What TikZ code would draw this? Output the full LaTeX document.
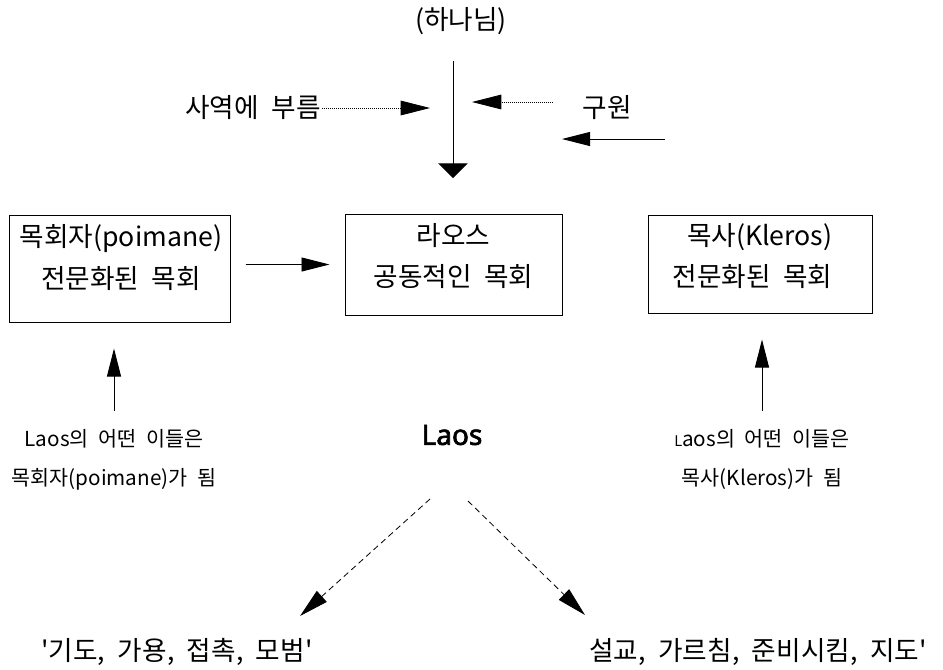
\documentclass[tikz,border=0pt]{standalone}
\usepackage{fontspec}
\setmainfont{Noto Sans CJK KR}[WordSpace=2.1]
\newfontfamily\latinbold{Noto Sans}[FakeBold=2.5]
\usetikzlibrary{arrows.meta,positioning}
\tikzset{>=latex,
  panel/.style={draw,line width=0.75pt,inner sep=0pt},
  big/.style={font=\fontsize{20}{31}\selectfont,align=center,inner sep=1pt},
  small/.style={font=\fontsize{15.5}{29}\selectfont,align=center,inner sep=1pt},
  plain/.style={line width=0.7pt,-{Triangle[length=21pt,width=10.5pt]}},
  downhead/.style={line width=0.7pt,-{Triangle[length=11pt,width=22pt]}},
  dots/.style={line width=0.6pt,dash pattern=on 0.75pt off 0.75pt,-{Triangle[length=22pt,width=11pt]}},
  dashes/.style={line width=0.6pt,dash pattern=on 4.5pt off 3pt,-{Triangle[length=22pt,width=11pt]}}}

\begin{document}
\begin{tikzpicture}[x=0.75pt,y=-0.75pt]
		\useasboundingbox (0,0) rectangle (943,669);
		% God on top
		\node[big] (god) at (461,21) {(하나님)};
		\coordinate (godfoot) at (453,61);
		\coordinate (godtip) at (453,178);
		\draw[downhead] (godfoot) -- (godtip);
		% Calling and salvation
		\node[big] (call) at (253,108) {사역에 부름};
		\coordinate (calltip) at (430,108);
		\draw[dots] (call.east) -- (calltip);
		\node[big] (save) at (607,108) {구원};
		\coordinate (savefoot) at (553,102);
		\coordinate (savetip) at (472,102);
		\draw[dots] (savefoot) -- (savetip);
		\coordinate (sidefoot) at (665,139);
		\coordinate (sidetip) at (562,139);
		\draw[plain] (sidefoot) -- (sidetip);
		% Three boxes
		\node[panel,minimum width=165.75pt,minimum height=80.25pt] (pastor) at (119.5,268.5) {};
		\node[big] (pastortext) at (121,257.5) {목회자(poimane)\\전문화된 목회};
		\node[panel,minimum width=162.75pt,minimum height=75.75pt] (laity) at (453.5,264.5) {};
		\node[big] (laitytext) at (453.5,256) {라오스\\공동적인 목회};
		\node[panel,minimum width=168pt,minimum height=73.5pt] (clergy) at (760,264) {};
		\node[big,align=right,anchor=east] (clergytext) at (834,256) {목사(Kleros)\\전문화된 목회};
		\draw[plain,shorten <=11.25pt,shorten >=11.25pt] (pastor.east |- laity.west) -- (laity.west);
		% Some of the Laos
		\node[small] (pnote) at (114,459.5) {Laos의 어떤 이들은\\목회자(poimane)가 됨};
		\draw[plain,shorten <=12.75pt,shorten >=19.5pt] (pnote.north) -- (pnote.north |- pastor.south);
		\node[small] (knote) at (762,459.5) {{\fontsize{11}{11}\selectfont L}aos의 어떤 이들은\\목사(Kleros)가 됨};
		\draw[plain,shorten <=12.75pt,shorten >=19.5pt] (knote.north) -- (knote.north |- clergy.south);
		% Laos and its ministries
		\node[font=\latinbold\fontsize{21}{25}\selectfont] (laos) at (452,435) {Laos};
		\node[big] (ministry) at (177,652) {\textquotesingle 기도, 가용, 접촉, 모범\textquotesingle};
		\node[big] (preach) at (758,652) {설교, 가르침, 준비시킴, 지도\textquotesingle};
		\coordinate (lfoot) at (430,499);
		\coordinate (ltip) at (300,616);
		\coordinate (rfoot) at (468,501);
		\coordinate (rtip) at (585,615);
		\draw[dashes] (lfoot) -- (ltip);
		\draw[dashes] (rfoot) -- (rtip);
\end{tikzpicture}
\end{document}
